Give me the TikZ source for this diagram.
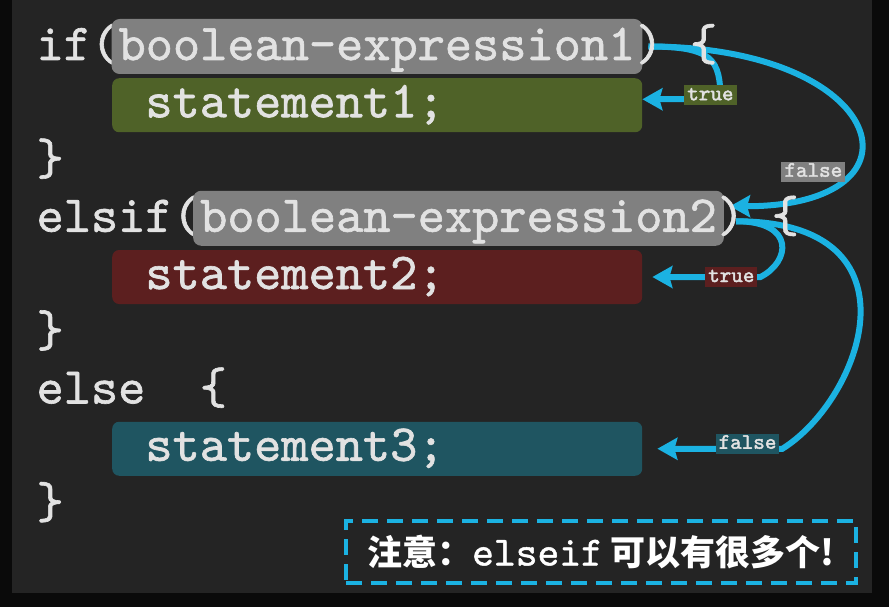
\documentclass[tikz,border=0pt]{standalone}
\usepackage{fontspec}
\newfontfamily\cjk{Noto Sans CJK SC}
\newfontfamily\codemono{lmmono10-regular.otf}[FakeBold=1.2]
\newfontfamily\tagmono{lmmono10-regular.otf}[FakeBold=2]
\usetikzlibrary{arrows.meta, positioning}

\definecolor{outer}{RGB}{10,10,10}
\definecolor{panel}{RGB}{36,36,36}
\definecolor{codefg}{RGB}{226,226,226}
\definecolor{condgray}{RGB}{128,128,128}
\definecolor{okgreen}{RGB}{79,98,40}
\definecolor{errred}{RGB}{92,31,31}
\definecolor{elseteal}{RGB}{31,85,97}
\definecolor{flowblue}{RGB}{27,178,226}

\newcommand{\codefont}{\codemono\fontsize{51.8}{56}\selectfont}
\newcommand{\tagfont}{\tagmono\fontsize{22}{24}\selectfont}
\newcommand{\stmt}[1]{\makebox[463.6pt][l]{#1}}

\begin{document}
\begin{tikzpicture}[
            x = 1pt, y = -1pt, % pixel grid, y going down
            > = {Stealth[length=20pt, width=22pt, inset=3pt]}, % arrow head style
            node distance = 0pt
        ]

        \tikzstyle{codetext}=[
            inner sep = 0pt,
            anchor = base west,
            text = codefg,
            font = \codefont
        ]
        \tikzstyle{condbox}=[codetext, fill = condgray, rounded corners = 8pt,
            inner xsep = 7pt, text height = 41pt, text depth = 14pt]
        \tikzstyle{stmtbox}=[codetext, rounded corners = 7pt,
            inner xsep = 33.2pt, text height = 39pt, text depth = 15pt]
        \tikzstyle{branchtag}=[font = \tagfont, text = codefg,
            inner xsep = 3pt, inner ysep = 2pt, text height = 13pt, text depth = 3pt]
        \tikzstyle{flowarrow}=[->, draw = flowblue, line width = 6pt]
        \tikzstyle{notebox}=[draw = flowblue, line width = 4pt, dash pattern = on 16pt off 9pt,
            minimum width = 510pt, minimum height = 62pt, text = white,
            font = \cjk\bfseries\fontsize{35}{40}\selectfont]

        % background
        \useasboundingbox (0,0) rectangle (889,607);
        \fill[outer] (0,0) rectangle (889,607);
        \fill[panel] (12,0) rectangle (872,593);

        % if branch
        \node[codetext] (kwif) at (36.4,60) {if(};
        \node[condbox, base right = -7pt of kwif] (cond1) {boolean-expression1};
        \node[stmtbox, fill = okgreen] (stmt1) at (112,117.25) {\stmt{statement1;}};
        \node[codetext] (end1) at (36.4,174.5) {\}};

        % elsif branch
        \node[codetext] (kwelsif) at (36.4,231.75) {elsif(};
        \node[condbox, base right = -7pt of kwelsif] (cond2) {boolean-expression2};
        \node[stmtbox, fill = errred] (stmt2) at (112,289) {\stmt{statement2;}};
        \node[codetext] (end2) at (36.4,346.25) {\}};

        % else branch
        \node[codetext] (kwelse) at (36.4,403.5) {else~~\{};
        \node[stmtbox, fill = elseteal] (stmt3) at (112,460.75) {\stmt{statement3;}};
        \node[codetext] (end3) at (36.4,518) {\}};

        \draw[flowarrow] ([xshift=6pt]cond1.east) .. controls +(64,0) and +(0,-40) .. ([xshift=78pt, yshift=6pt]stmt1.east)
            -- node[branchtag, fill = okgreen, pos = 0, xshift = -10pt, yshift = 4pt] (true1) {true} ([yshift=6pt]stmt1.east);
        \draw[flowarrow] ([xshift=6pt]cond1.east) .. controls +(240,0) and +(205,0) .. ([xshift=6pt, yshift=12pt]cond2.east)
            node[branchtag, fill = condgray, pos = 0.7, anchor = east] (false1) {false};
        \draw[flowarrow] ([xshift=12pt, yshift=-3pt]cond2.east) .. controls +(60,0) and +(30,-15) .. ([xshift=118pt]stmt2.east)
            -- node[branchtag, fill = errred, pos = 0, anchor = east] (true2) {true} ([xshift=10pt]stmt2.east);
        \draw[flowarrow] ([xshift=12pt, yshift=-3pt]cond2.east) .. controls +(190,0) and +(80,-50) .. ([xshift=140pt]stmt3.east)
            -- node[branchtag, fill = elseteal, pos = 0, anchor = east, yshift = 5pt] (false2) {false} ([xshift=15pt]stmt3.east);

        % closing parts of the condition lines
        \node[codetext, base right = -7pt of cond1] (close1) {)~\{};
        \node[codetext, base right = -7pt of cond2] (close2) {)~\{};

        \node[notebox] (note) at (601,552) {注意：{\codemono\fontsize{41.5}{44}\selectfont elseif} 可以有很多个!};
    \end{tikzpicture}
\end{document}
